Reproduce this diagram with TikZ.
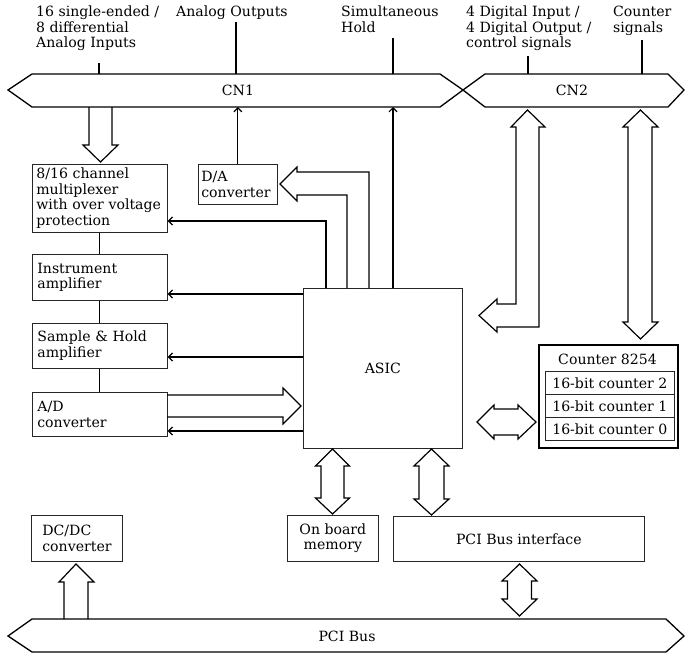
\documentclass[tikz,border=0pt]{standalone}
\usepackage{fontspec}
\setmainfont{DejaVu Serif}
\usetikzlibrary{arrows.meta}
\begin{document}
\begin{tikzpicture}[x=1pt,y=-1pt,
  every node/.style={font=\fontsize{14.1}{15.5}\selectfont},
  box/.style={draw=black!85, line width=0.7pt, align=left, inner xsep=5pt, inner ysep=0pt, anchor=north west,
    execute at begin node={\hyphenpenalty=10000 \exhyphenpenalty=10000}},
  cbox/.style={draw=black!85, line width=0.7pt, align=center, inner sep=0pt, anchor=north west},
  rowbox/.style={draw=black!85, line width=0.7pt, inner sep=0pt, anchor=north west, minimum width=129pt, minimum height=23pt},
  lbl/.style={align=left, inner sep=0pt, anchor=north west},
  wire/.style={line width=1.2pt},
  sig/.style={wire, -{Straight Barb[length=4pt,width=8pt]}},
  hollow/.style={line width=1.2pt, line join=miter},
  bus/.style={line width=1.3pt, line join=miter}]
\useasboundingbox (0,0) rectangle (685,656);

% bus reference coordinates
\coordinate (cn1top) at (0,74);
\coordinate (cn1bot) at (0,107);
\coordinate (pcitop) at (0,619);

% buses
\draw[bus] (8,90) -- (32,74) -- (440,74) -- (463,90) -- (440,107) -- (32,107) -- cycle;
\draw[bus] (463,90) -- (485,74) -- (668,74) -- (684,90) -- (668,107) -- (485,107) -- cycle;
\draw[bus] (8,636) -- (32,619) -- (666,619) -- (684,636) -- (666,652) -- (32,652) -- cycle;
\node (cn1) at (238,90) {CN1};
\node (cn2) at (572,90) {CN2};
\node (pci) at (347,636) {PCI Bus};

% top labels
\node[lbl] (l1) at (36,6) {16 single-ended /\\8 differential\\Analog Inputs};
\node[lbl] (l2) at (176,6) {Analog Outputs};
\node[lbl] (l3) at (341,6) {Simultaneous\\Hold};
\node[lbl] (l4) at (466,6) {4 Digital Input /\\4 Digital Output /\\control signals};
\node[lbl] (l5) at (613,6) {Counter\\signals};
\draw[wire] (99,63) -- (cn1top -| 99,0);
\draw[wire] (236,22) -- (cn1top -| 236,0);
\draw[wire] (393,38) -- (cn1top -| 393,0);
\draw[wire] (528,56) -- (cn1top -| 528,0);
\draw[wire] (642,40) -- (cn1top -| 642,0);

% boxes
\node[box, inner xsep=4pt, text width=127pt, minimum height=68pt] (mux) at (32,164) {8/16 channel\\multiplexer\\with over voltage\\protection};
\node[box, text width=125pt, minimum height=46pt] (inst) at (32,254) {Instrument\\amplifier};
\node[box, text width=125pt, minimum height=45pt] (sh) at (32,323) {Sample \& Hold\\amplifier};
\node[box, text width=125pt, minimum height=44pt] (ad) at (32,392) {A/D\\converter};
\node[box, inner xsep=3pt, text width=73pt, minimum height=40pt] (da) at (198,164) {D/A\\converter};
\node[cbox, minimum width=159pt, minimum height=160pt] (asic) at (303,288) {ASIC};
\node[box, inner xsep=11pt, text width=69pt, minimum height=46pt] (dcdc) at (31,515) {DC/DC\\converter};
\node[cbox, minimum width=91pt, minimum height=46pt] (mem) at (287,515) {On board\\memory};
\node[cbox, minimum width=251pt, minimum height=45pt] (pciif) at (393,516) {PCI Bus interface};

% counter
\node[draw, line width=1.6pt, inner sep=0pt, anchor=north west, minimum width=139pt, minimum height=103pt] (cnt) at (538,344) {};
\node (cnttitle) at (607.5,359) {Counter 8254};
\node[rowbox] (c2) at (545,371) {16-bit counter 2};
\node[rowbox] (c1) at (545,394) {16-bit counter 1};
\node[rowbox] (c0) at (545,417) {16-bit counter 0};

% simple connectors
\draw[wire] (mux.south) -- (inst.north);
\draw[wire] (inst.south) -- (sh.north);
\draw[wire] (sh.south) -- (ad.north);
\draw[sig] (da.north) -- (da.north |- cn1bot);
\draw[sig] (asic.north -| 393,0) -- (cn1bot -| 393,0);
\draw[sig] (asic.north -| 326,0) |- (mux.east |- 0,221);
\draw[sig] (asic.west |- 0,294) -- (inst.east |- 0,294);
\draw[sig] (asic.west |- 0,357) -- (sh.east |- 0,357);
\draw[sig] (asic.west |- 0,431) -- (ad.east |- 0,431);

% hollow arrows
\draw[hollow] (89,107) -- (89,145) -- (83,145) -- (100.5,162) -- (118,145) -- (112,145) -- (112,107);
\draw[hollow] (369,288) -- (369,172) -- (297,172) -- (297,167) -- (280,184) -- (297,201) -- (297,195) -- (347,195) -- (347,288);
\draw[hollow] (167,395) -- (283,395) -- (283,388) -- (301,406) -- (283,424) -- (283,417) -- (167,417);
\draw[hollow] (64,619) -- (64,582) -- (59,582) -- (76,564) -- (94,582) -- (88,582) -- (88,619);
% CN2 bent double arrow
\draw[hollow] (497,304) -- (516,304) -- (516,127) -- (511,127) -- (527.5,110) -- (545,127) -- (539,127) -- (539,327) -- (497,327) -- (497,332) -- (479,315.5) -- (497,299) -- cycle;
% CN2 vertical double arrow to counter
\draw[hollow] (628,127) -- (623,127) -- (640.5,110) -- (658,127) -- (652,127) -- (652,322) -- (658,322) -- (640.5,339) -- (623,322) -- (628,322) -- cycle;
% ASIC - counter
\draw[hollow] (477,422) -- (494,405) -- (494,409) -- (518,409) -- (518,405) -- (536,422) -- (518,439) -- (518,435) -- (494,435) -- (494,439) -- cycle;
% ASIC - memory
\draw[hollow] (332.5,449) -- (349.5,466) -- (344,466) -- (344,498) -- (349.5,498) -- (332.5,514) -- (315.5,498) -- (321,498) -- (321,466) -- (315.5,466) -- cycle;
% ASIC - PCI interface
\draw[hollow] (431.5,449) -- (449,466) -- (444,466) -- (444,499) -- (449,499) -- (431.5,515) -- (414,499) -- (419,499) -- (419,466) -- (414,466) -- cycle;
% PCI interface - PCI bus
\draw[hollow] (519.5,564) -- (537,581) -- (531.5,581) -- (531.5,599) -- (537,599) -- (519.5,616) -- (502,599) -- (507.5,599) -- (507.5,581) -- (502,581) -- cycle;
\end{tikzpicture}
\end{document}
